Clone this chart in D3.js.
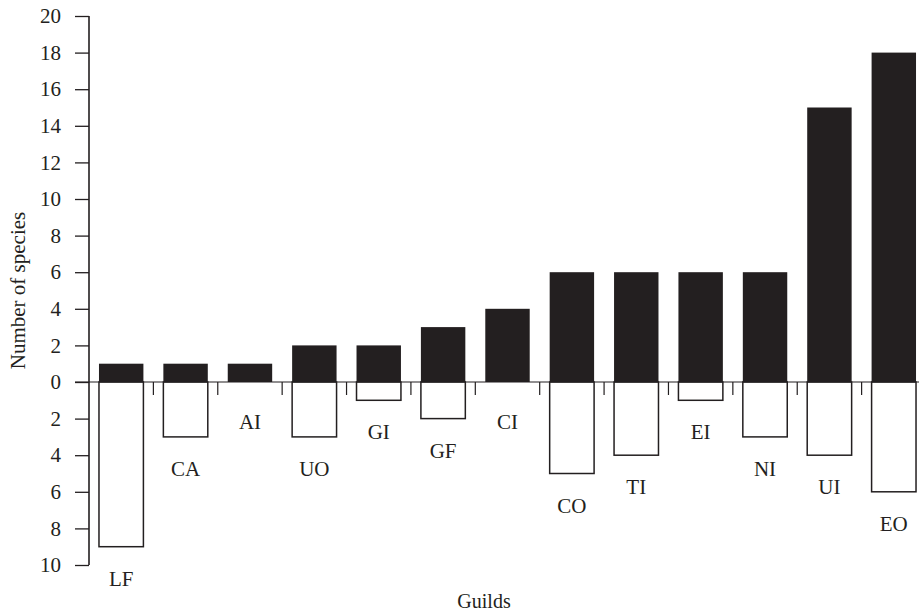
<!DOCTYPE html>
<html>
<head>
<meta charset="utf-8">
<script src="https://cdnjs.cloudflare.com/ajax/libs/d3/7.8.5/d3.min.js"></script>
<style>
  body { margin: 0; background: #fff; }
  svg text { font-family: "Liberation Serif", "DejaVu Serif", serif; fill: #231f20; }
</style>
</head>
<body>
<div id="chart"></div>
<script>
// guild codes, left to right
var guilds = ["LF", "CA", "AI", "UO", "GI", "GF", "CI", "CO", "TI", "EI", "NI", "UI", "EO"];
// species above the zero line (black bars)
var upper = [1, 1, 1, 2, 2, 3, 4, 6, 6, 6, 6, 15, 18];
// species below the zero line (white bars)
var lower = [9, 3, 0, 3, 1, 2, 0, 5, 4, 1, 3, 4, 6];
var yTicks = [-10, -8, -6, -4, -2, 0, 2, 4, 6, 8, 10, 12, 14, 16, 18, 20];

var ink = "#231f20";
var w = 919, h = 614;

var svg = d3.select("#chart")
  .append("svg")
  .attr("width", w)
  .attr("height", h);

var x = d3.scaleBand()
  .domain(guilds)
  .range([89, 926])
  .paddingInner(0.31)
  .paddingOuter(0.155);

var y = d3.scaleLinear()
  .domain([-10, 20])
  .range([565, 16]);

var rows = guilds.map(function(g, i) {
  return { name: g, up: upper[i], down: lower[i] };
});

// white bars below zero
svg.append("g")
  .selectAll("rect")
  .data(rows.filter(function(d) { return d.down > 0; }))
  .enter().append("rect")
  .attr("x", function(d) { return x(d.name); })
  .attr("y", y(0))
  .attr("width", x.bandwidth())
  .attr("height", function(d) { return y(-d.down) - y(0); })
  .attr("fill", "#fff")
  .attr("stroke", ink)
  .attr("stroke-width", 1.5);

// black bars above zero
svg.append("g")
  .selectAll("rect")
  .data(rows)
  .enter().append("rect")
  .attr("x", function(d) { return x(d.name); })
  .attr("y", function(d) { return y(d.up); })
  .attr("width", x.bandwidth())
  .attr("height", function(d) { return y(0) - y(d.up); })
  .attr("fill", ink);

// zero line
svg.append("line")
  .attr("x1", 75).attr("x2", w)
  .attr("y1", y(0)).attr("y2", y(0))
  .attr("stroke", ink)
  .attr("stroke-width", 1.2);

// small ticks between the guilds
var gap = x.step() - x.bandwidth();
svg.append("g")
  .selectAll("line")
  .data(guilds.slice(0, -1))
  .enter().append("line")
  .attr("x1", function(g) { return x(g) + x.bandwidth() + gap / 2; })
  .attr("x2", function(g) { return x(g) + x.bandwidth() + gap / 2; })
  .attr("y1", y(0))
  .attr("y2", y(0) + 13)
  .attr("stroke", ink)
  .attr("stroke-width", 1.2);

// guild labels under each column
svg.append("g")
  .selectAll("text")
  .data(rows)
  .enter().append("text")
  .attr("x", function(d) { return x(d.name) + x.bandwidth() / 2; })
  .attr("y", function(d) { return Math.max(y(-d.down), y(0) + 8) + 39; })
  .attr("text-anchor", "middle")
  .style("font-size", "21px")
  .text(function(d) { return d.name; });

// y axis, negative side labelled as counts
var yAxis = d3.axisLeft(y)
  .tickValues(yTicks)
  .tickSize(14)
  .tickPadding(14)
  .tickFormat(function(d) { return Math.abs(d); });

var ga = svg.append("g")
  .attr("transform", "translate(89,0)")
  .call(yAxis);
ga.select(".domain").remove();
ga.selectAll(".tick line").attr("stroke", ink).attr("stroke-width", 1.3);
ga.selectAll(".tick text")
  .style("font-family", "'Liberation Serif', serif")
  .style("font-size", "21px")
  .attr("fill", ink);
ga.append("line")
  .attr("x1", 0).attr("x2", 0)
  .attr("y1", y(20)).attr("y2", y(-10))
  .attr("stroke", ink)
  .attr("stroke-width", 1.6);

// axis titles
svg.append("text")
  .attr("transform", "translate(25," + ((y(20) + y(-10)) / 2) + ") rotate(-90)")
  .attr("text-anchor", "middle")
  .style("font-size", "21px")
  .text("Number of species");

svg.append("text")
  .attr("x", 484)
  .attr("y", 608)
  .attr("text-anchor", "middle")
  .style("font-size", "20px")
  .text("Guilds");
</script>
</body>
</html>
